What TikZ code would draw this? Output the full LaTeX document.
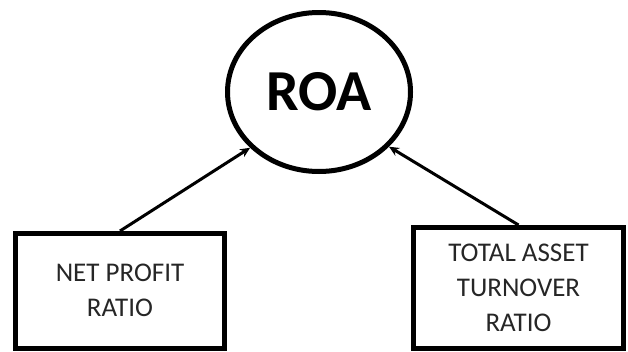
\documentclass[tikz,border=0pt]{standalone}
\usepackage{fontspec}
\setmainfont{Carlito}
\usetikzlibrary{shapes.geometric,arrows.meta}

\begin{document}
\begin{tikzpicture}[x=1pt, y=-1pt,
  every node/.style={font=\fontsize{27}{35}\selectfont, text=black!85},
  ratio/.style={draw=black, line width=5pt, align=center, inner sep=0pt},
  link/.style={line width=3pt, -{Stealth[length=10pt, width=9pt]}}]
  % Marco
  \useasboundingbox (0,0) rectangle (628,351);

  % Indicador principal
  \node[draw, ellipse, line width=5pt, inner sep=0pt,
        minimum width=183pt, minimum height=159pt,
        font=\fontsize{58}{60}\bfseries\selectfont, text=black]
        (roa) at (319,92) {ROA};

  % Cajas de razones
  \node[ratio, minimum width=209pt, minimum height=114.5pt]
        (npr) at (120,290.75) {NET PROFIT\\RATIO};
  \node[ratio, minimum width=210pt, minimum height=120.5pt]
        (tat) at (518.5,287.75) {TOTAL ASSET\\TURNOVER\\RATIO};

  % Flechas
  \draw[link] (npr.north) -- (roa.219);
  \draw[link] (tat.north) -- (roa.322);
\end{tikzpicture}
\end{document}
